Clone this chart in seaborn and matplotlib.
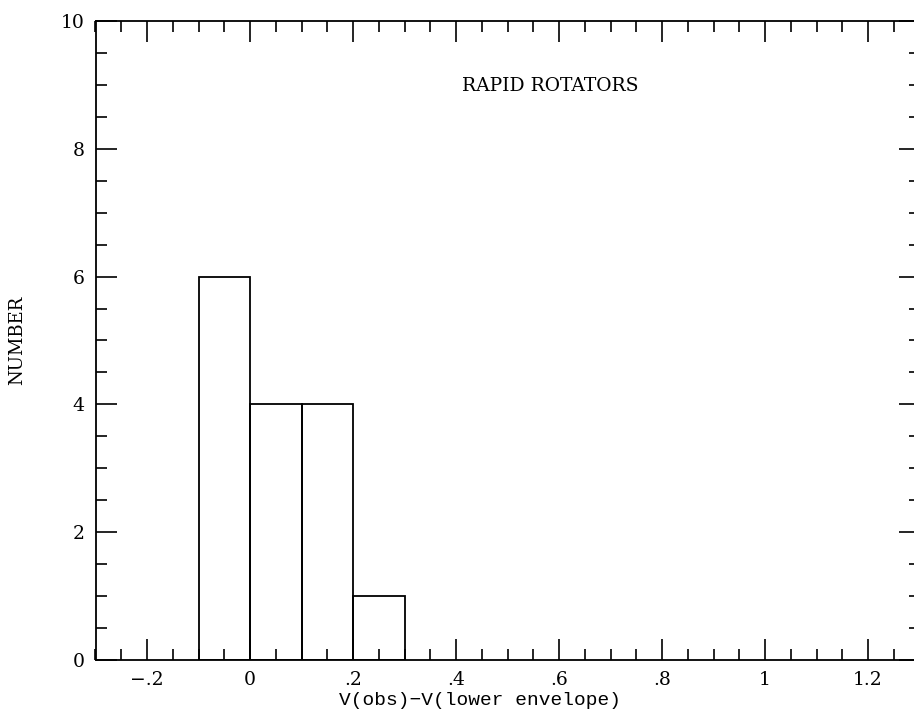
import matplotlib
matplotlib.use("Agg")
import matplotlib.pyplot as plt
from matplotlib.ticker import MultipleLocator, FuncFormatter
import seaborn as sns

# Histogram of V(obs) - V(lower envelope) for rapid rotators
bin_edges = [-0.1, 0.0, 0.1, 0.2, 0.3]
bin_centers = [-0.05, 0.05, 0.15, 0.25]
counts = [6, 4, 4, 1]

x_ticks = [-0.2, 0.0, 0.2, 0.4, 0.6, 0.8, 1.0, 1.2]
y_ticks = [0, 2, 4, 6, 8, 10]

sns.set_theme(style="white")
plt.rcParams["font.family"] = ["DejaVu Serif"]

fig = plt.figure(figsize=(9.14, 7.15), dpi=100)
ax = fig.add_axes([95.5 / 914, 55 / 715, 824 / 914, 639 / 715])

sns.histplot(x=bin_centers, weights=counts, bins=bin_edges, fill=False,
             element="bars", color="black", linewidth=1.3, ax=ax)

ax.set_xlim(-0.3, 1.3)
ax.set_ylim(0, 10)

def fmt(v, pos):
    if abs(v) < 1e-9:
        return "0"
    s = f"{v:.1f}".rstrip("0").rstrip(".")
    s = s.replace("0.", ".")
    return s.replace("-", "\u2212")

ax.set_xticks(x_ticks)
ax.set_yticks(y_ticks)
ax.xaxis.set_minor_locator(MultipleLocator(0.05))
ax.yaxis.set_minor_locator(MultipleLocator(0.5))
ax.xaxis.set_major_formatter(FuncFormatter(fmt))
ax.yaxis.set_major_formatter(FuncFormatter(lambda v, p: f"{int(v)}"))

ax.tick_params(which="both", direction="in", top=True, right=True,
               bottom=True, left=True,
               color="black", width=1.2, labelsize=13.5, labelcolor="black")
ax.tick_params(which="major", length=15, pad=8)
ax.tick_params(which="minor", length=8)

for sp in ax.spines.values():
    sp.set_color("black")
    sp.set_linewidth(1.3)

ax.set_ylabel("NUMBER", fontsize=13, color="black")
ax.set_xlabel("V(obs)\u2212V(lower envelope)", fontsize=14,
              family=["Liberation Mono", "DejaVu Sans Mono"], color="black")
ax.xaxis.set_label_coords((480 - 95.5) / 824, -0.05)
ax.yaxis.set_label_coords(-0.084, 0.5)

ax.text(0.583, 8.98, "RAPID ROTATORS", fontsize=13.5, ha="center",
        va="center", color="black")

fig.savefig("out.png", dpi=100, facecolor="white")
